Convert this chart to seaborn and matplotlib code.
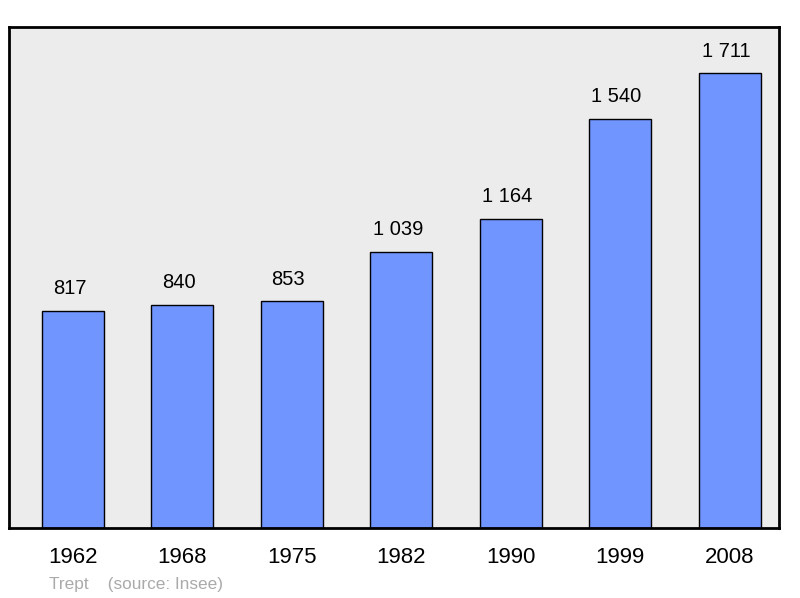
import numpy as np
import pandas as pd
import seaborn as sns
import matplotlib.pyplot as plt

sns.set_theme(style="white")
plt.rcParams['font.family'] = ['Liberation Sans', 'DejaVu Sans']

# population data
years = ['1962', '1968', '1975', '1982', '1990', '1999', '2008']
population = [817, 840, 853, 1039, 1164, 1540, 1711]
labels = ['817', '840', '853', '1 039', '1 164', '1 540', '1 711']

df = pd.DataFrame({'year': years, 'population': population})

fig = plt.figure(figsize=(8, 5.98), dpi=100)
ax = fig.add_axes([9 / 800, 70 / 598, 770 / 800, 501 / 598])
ax.set_facecolor('#ececec')

sns.barplot(data=df, x='year', y='population', color='#7195ff',
            saturation=1, width=0.566, edgecolor='black', linewidth=1,
            ax=ax)

# value labels above bars
for i, (v, lab) in enumerate(zip(population, labels)):
    ax.annotate(lab, (i, v), xytext=(-2.5, 16), textcoords='offset points',
                ha='center', va='center', fontsize=14.5, color='black')

ax.set_xlim(-0.584, 6.452)
ax.set_ylim(0, 1886)
ax.set_yticks([])
ax.set_xlabel('')
ax.set_ylabel('')
ax.tick_params(axis='x', length=0, pad=14, labelsize=16, colors='black')

for s in ax.spines.values():
    s.set_visible(True)
    s.set_color('black')
    s.set_linewidth(2)
    s.set_joinstyle('round')

fig.text(49 / 800, 1 - 584 / 598, 'Trept    (source: Insee)',
         color='#aaaaaa', fontsize=12.4, ha='left', va='center')

plt.savefig('out.png', dpi=100)
